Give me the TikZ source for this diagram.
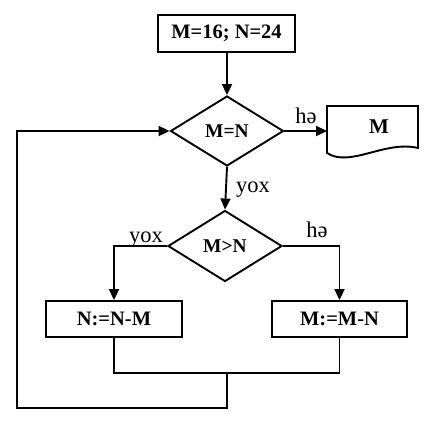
\documentclass[tikz,border=0pt]{standalone}
\usepackage{fontspec}
\setmainfont{Liberation Serif}
\usetikzlibrary{arrows.meta,shapes.geometric}
\begin{document}
\begin{tikzpicture}[x=1pt,y=-1pt,
  line width=1.9pt,
  arr/.style={-{Triangle[length=11pt,width=10pt]}},
  boxnode/.style={draw,minimum width=136pt,minimum height=36pt,inner sep=0pt,font=\bfseries\fontsize{20.5}{20.5}\selectfont},
  dia/.style={draw,diamond,inner sep=0pt,minimum width=113pt,minimum height=70pt,font=\bfseries\fontsize{19.5}{19.5}\selectfont},
  lbl/.style={anchor=base,inner sep=0pt,font=\fontsize{22.5}{22.5}\selectfont}]
\useasboundingbox (0,0) rectangle (427,421);
\node[boxnode,minimum width=137pt,minimum height=37pt] (top) at (226.5,33.5) {M=16; N=24};
\node[dia] (d1) at (227,131) {M=N};
\node[dia,minimum width=114pt,minimum height=71pt] (d2) at (225,246) {M>N};
\node[boxnode] (b1) at (114,319) {N:=N-M};
\node[boxnode,minimum width=135pt] (b2) at (339.5,319) {M:=M-N};
% document shape
\draw (327,106) -- (418,106) -- (418,148) .. controls (385,140) and (350,168) .. (327,153) -- cycle;
\coordinate (docw) at (327,131);
\node[inner sep=0pt,font=\bfseries\fontsize{21}{21}\selectfont] (m) at (379,127) {M};
% connectors
\draw[arr] (top.south -| d1.north) -- (d1.north);
\draw[arr] (d1.east) -- (docw);
\draw[arr] (d1.south) -- (d2.north);
\draw[arr] (d2.west) -| (b1.north);
\draw[arr] (d2.east) -| (b2.north);
\coordinate (j) at (227,373);
\coordinate (jb) at (227,408);
\coordinate (cl) at (17,408);
\draw (b1.south) |- (j) -| (b2.south);
\draw[arr] (j) -- (jb) -- (cl) |- (d1.west);
% labels
\node[lbl] (l1) at (306,123) {hə};
\node[lbl] (l2) at (253,192) {yox};
\node[lbl] (l3) at (146,242) {yox};
\node[lbl] (l4) at (317,237) {hə};
\end{tikzpicture}
\end{document}
